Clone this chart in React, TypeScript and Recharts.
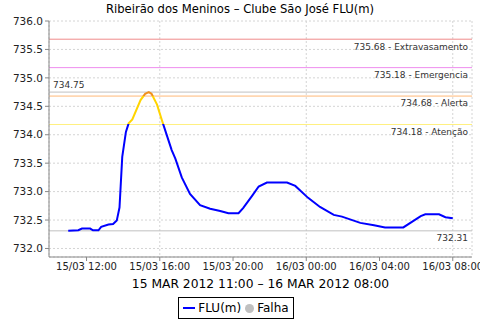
import React from "react";
import {
  LineChart,
  Line,
  XAxis,
  YAxis,
  CartesianGrid,
  ReferenceLine,
  Legend,
} from "recharts";

// hours counted from 15/03/2012 00:00
const horas = [
  11.0, 11.55, 11.75, 12.2, 12.35, 12.65, 12.8, 13.2, 13.45, 13.65, 13.8, 13.95, 14.15, 14.3,
  14.5, 14.95, 15.2, 15.4, 15.55, 15.85, 16.1, 16.65, 16.85, 17.2, 17.65, 18.2, 18.75, 19.3,
  19.75, 20.3, 20.55, 21.05, 21.4, 21.85, 22.95, 23.4, 24.1, 24.75, 25.5, 25.95, 26.95, 27.7,
  28.3, 29.3, 30.25, 30.5, 31.25, 31.6, 32.0,
];
const nivel = [
  732.31, 732.32, 732.35, 732.35, 732.32, 732.32, 732.38, 732.42, 732.43, 732.49, 732.72,
  733.61, 734.05, 734.2, 734.27, 734.61, 734.72, 734.75, 734.72, 734.53, 734.27, 733.73,
  733.58, 733.25, 732.96, 732.76, 732.7, 732.66, 732.62, 732.62, 732.71, 732.93, 733.09,
  733.16, 733.16, 733.1, 732.89, 732.73, 732.59, 732.56, 732.45, 732.41, 732.37, 732.37,
  732.57, 732.6, 732.6, 732.55, 732.53,
];

const xTicks = [12, 16, 20, 24, 28, 32];
const yTicks = [732.0, 732.5, 733.0, 733.5, 734.0, 734.5, 735.0, 735.5, 736.0];

const cotas = [
  { valor: 735.68, nome: "Extravasamento", cor: "#f08a8a" },
  { valor: 735.18, nome: "Emergencia", cor: "#ee8cee" },
  { valor: 734.68, nome: "Alerta", cor: "#ffb878" },
  { valor: 734.18, nome: "Atenção", cor: "#fff080" },
];
const maximo = 734.75;
const minimo = 732.31;

const legendItems = [
  { nome: "FLU(m)", cor: "#0000ff", tipo: "line" },
  { nome: "Falha", cor: "#c0c0c0", tipo: "circle" },
];

const data = horas.map((h, i) => ({ h, flu: nivel[i] }));

const fonte = "'DejaVu Sans', sans-serif";

function fmtHora(h: number) {
  const dia = h >= 24 ? 16 : 15;
  const hh = String(h % 24).padStart(2, "0");
  return `${dia}/03 ${hh}:00`;
}

function Legenda() {
  return (
    <div style={{ display: "flex", justifyContent: "center" }}>
      <div
        style={{
          display: "flex",
          alignItems: "center",
          border: "1px solid #000",
          padding: "0 4px",
          height: 20,
          fontFamily: fonte,
          fontSize: 12,
          color: "#000",
          gap: 4,
        }}
      >
        {legendItems.map((it) => (
          <span key={it.nome} style={{ display: "flex", alignItems: "center", gap: 3 }}>
            {it.tipo === "line" ? (
              <span style={{ width: 12, height: 2, background: it.cor, display: "inline-block" }} />
            ) : (
              <span
                style={{ width: 9, height: 9, borderRadius: 5, background: it.cor, display: "inline-block" }}
              />
            )}
            {it.nome}
          </span>
        ))}
      </div>
    </div>
  );
}

export default function App() {
  const span = maximo - minimo;
  const offAlerta = ((maximo - 734.68) / span) * 100;
  const offAtencao = ((maximo - 734.18) / span) * 100;
  const rotulo = { fontSize: 9, fill: "#333", fontFamily: fonte };

  return (
    <div style={{ position: "absolute", left: 0, top: 0, width: 480, height: 320, background: "#fff" }}>
      <div
        style={{
          position: "absolute",
          top: 0,
          width: 480,
          textAlign: "center",
          fontFamily: fonte,
          fontSize: 11.6,
          lineHeight: "18px",
          color: "#000",
        }}
      >
        Ribeirão dos Meninos – Clube São José FLU(m)
      </div>
      <LineChart width={480} height={320} data={data} margin={{ top: 21, right: 8, left: 0, bottom: 1 }}>
        <defs>
          <linearGradient id="corFlu" x1="0" y1="0" x2="0" y2="1">
            <stop offset={`${offAlerta}%`} stopColor="#f0901e" />
            <stop offset={`${offAlerta}%`} stopColor="#ffd400" />
            <stop offset={`${offAtencao}%`} stopColor="#ffd400" />
            <stop offset={`${offAtencao}%`} stopColor="#0000ff" />
          </linearGradient>
        </defs>
        <CartesianGrid stroke="#d4d4d4" strokeDasharray="2 2" />
        <XAxis
          dataKey="h"
          type="number"
          domain={[9.95, 33.05]}
          ticks={xTicks}
          tickFormatter={fmtHora}
          stroke="#888"
          tickSize={4}
          tickMargin={2}
          height={40}
          tick={{ fontSize: 10, fill: "#222", fontFamily: fonte }}
          label={{
            value: "15 MAR 2012 11:00 – 16 MAR 2012 08:00",
            position: "insideBottom",
            offset: 9,
            fontSize: 12.3,
            fill: "#000",
            fontFamily: fonte,
          }}
        />
        <YAxis
          domain={[731.85, 736.0]}
          ticks={yTicks}
          tickFormatter={(v: number) => v.toFixed(1)}
          stroke="#888"
          width={49}
          tickSize={4}
          tickMargin={2}
          tick={{ fontSize: 10.5, fill: "#222", fontFamily: fonte }}
        />
        <YAxis yAxisId="borda" orientation="right" width={0} tick={false} stroke="#c8c8c8" />
        {cotas.map((c) => (
          <ReferenceLine
            key={c.nome}
            y={c.valor}
            stroke={c.cor}
            strokeWidth={1}
            label={{ value: `${c.valor.toFixed(2)} - ${c.nome}`, position: "insideTopRight", offset: 4, ...rotulo }}
          />
        ))}
        <ReferenceLine
          y={maximo}
          stroke="#c0c0c0"
          label={{ value: maximo.toFixed(2), position: "insideBottomLeft", offset: 4, ...rotulo }}
        />
        <ReferenceLine
          y={minimo}
          stroke="#c0c0c0"
          label={{ value: minimo.toFixed(2), position: "insideTopRight", offset: 4, ...rotulo }}
        />
        <Line
          type="linear"
          dataKey="flu"
          stroke="url(#corFlu)"
          strokeWidth={2}
          dot={false}
          isAnimationActive={false}
        />
        <Legend verticalAlign="bottom" height={22} content={() => <Legenda />} />
      </LineChart>
    </div>
  );
}
